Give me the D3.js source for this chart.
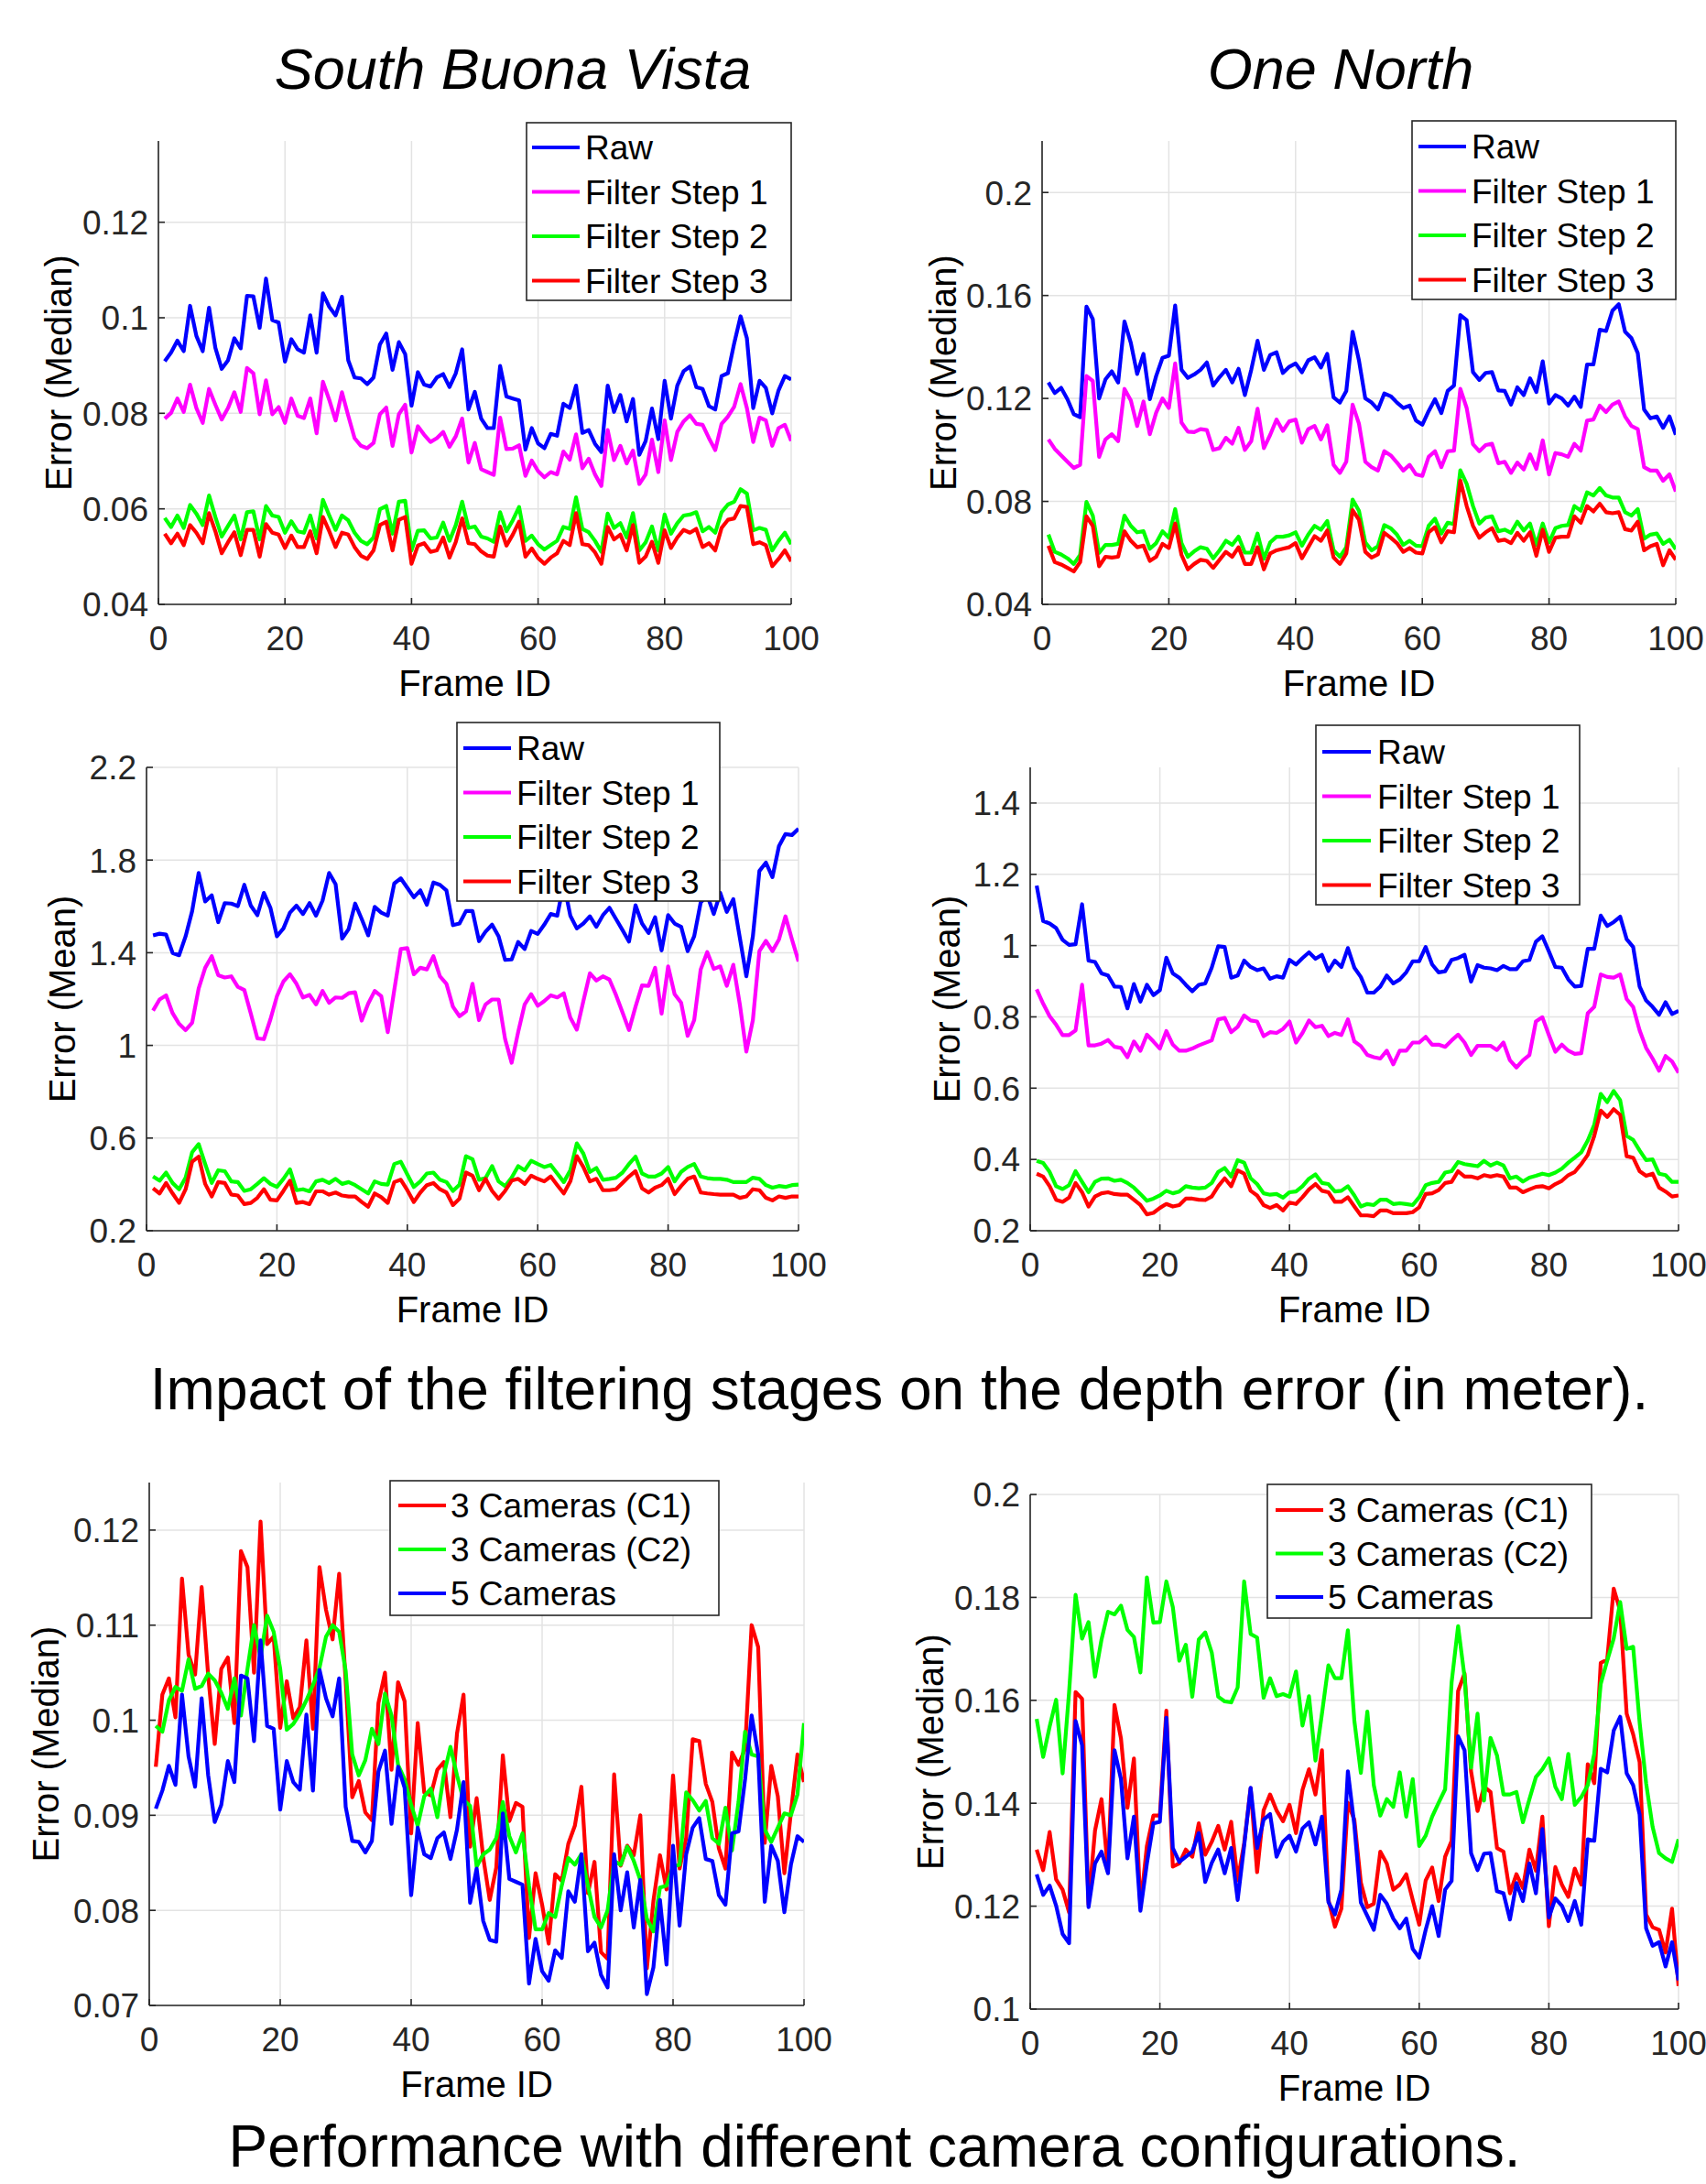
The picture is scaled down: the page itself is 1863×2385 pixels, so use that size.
<!DOCTYPE html>
<html>
<head>
<meta charset="utf-8">
<script src="https://cdn.jsdelivr.net/npm/d3@7"></script>
<style>
  body { margin: 0; background: #fff; }
  text { font-family: "Liberation Sans", Arial, sans-serif; fill: #000; }
</style>
</head>
<body>
<div id="chart"></div>
<script>
const frames = d3.range(1, 101);
const xTicks = [0, 20, 40, 60, 80, 100];

const filterNames = ['Raw', 'Filter Step 1', 'Filter Step 2', 'Filter Step 3'];
const filterColors = ['#0000ff', '#ff00ff', '#00ff00', '#ff0000'];
const cameraNames = ['3 Cameras (C1)', '3 Cameras (C2)', '5 Cameras'];
const cameraColors = ['#ff0000', '#00ff00', '#0000ff'];

// South Buona Vista, median error
const sbvMedianRaw = [0.0909,0.0927,0.0952,0.093,0.1025,0.0962,0.093,0.1021,0.0937,0.0893,
  0.0911,0.0957,0.0936,0.1046,0.1045,0.0979,0.1082,0.0995,0.099,0.0908,
  0.0955,0.0934,0.0927,0.1005,0.0927,0.1051,0.1023,0.1005,0.1044,0.0911,
  0.0875,0.0873,0.0861,0.0875,0.0944,0.0967,0.0891,0.0949,0.0924,0.0816,
  0.0886,0.086,0.0856,0.0875,0.0882,0.0855,0.0884,0.0934,0.0808,0.0845,
  0.0789,0.0769,0.0769,0.0899,0.0835,0.0831,0.0827,0.0724,0.0769,0.0737,
  0.0727,0.0757,0.0753,0.082,0.0811,0.0858,0.0759,0.0765,0.0736,0.0719,
  0.0858,0.0803,0.0838,0.0783,0.083,0.0713,0.0742,0.081,0.0746,0.0868,
  0.0789,0.0858,0.0888,0.0898,0.0855,0.0851,0.0815,0.0808,0.0878,0.0884,
  0.0947,0.1003,0.0957,0.0811,0.0868,0.0853,0.08,0.0848,0.0878,0.0871];
const sbvMedianStep1 = [0.0789,0.0801,0.0831,0.0803,0.086,0.0811,0.078,0.0851,0.0818,0.0787,
  0.0811,0.0844,0.0803,0.0895,0.0884,0.0798,0.0869,0.0798,0.0813,0.078,
  0.0831,0.0795,0.079,0.0831,0.0758,0.0866,0.0828,0.0785,0.0844,0.0795,
  0.0748,0.0732,0.0727,0.0738,0.0798,0.0812,0.0732,0.0798,0.0818,0.0718,
  0.0773,0.0755,0.074,0.0748,0.0761,0.073,0.0752,0.0789,0.0697,0.0738,
  0.0683,0.0677,0.0671,0.0791,0.0725,0.0726,0.0733,0.0669,0.0701,0.0679,
  0.0666,0.0677,0.0672,0.072,0.0703,0.0756,0.0685,0.0705,0.0672,0.0648,
  0.0765,0.0702,0.0732,0.0695,0.0722,0.0652,0.0672,0.0745,0.0677,0.0785,
  0.0702,0.0761,0.0783,0.0796,0.0778,0.0776,0.0748,0.0723,0.0778,0.0793,
  0.0814,0.0861,0.0811,0.074,0.0791,0.0785,0.0732,0.0769,0.0776,0.0742];
const sbvMedianStep2 = [0.0581,0.0562,0.0586,0.056,0.0608,0.059,0.0566,0.0628,0.0583,0.0542,
  0.0564,0.0586,0.0536,0.0593,0.0595,0.0536,0.0606,0.0586,0.0583,0.055,
  0.0574,0.0553,0.055,0.0586,0.0538,0.0619,0.0586,0.0556,0.0586,0.0576,
  0.055,0.0533,0.0526,0.054,0.0599,0.0606,0.0548,0.0615,0.0617,0.0513,
  0.0554,0.0555,0.0538,0.054,0.0571,0.0533,0.0566,0.0615,0.056,0.0563,
  0.0542,0.0538,0.0531,0.0593,0.0553,0.0576,0.0604,0.0533,0.0544,0.0526,
  0.0515,0.0524,0.0533,0.0562,0.0558,0.0624,0.0558,0.0551,0.0533,0.051,
  0.059,0.056,0.057,0.054,0.0591,0.0513,0.053,0.0563,0.0513,0.0588,
  0.0548,0.057,0.0586,0.0588,0.0593,0.0553,0.0562,0.055,0.0593,0.0609,
  0.0615,0.0641,0.0632,0.0555,0.056,0.0556,0.0513,0.0533,0.055,0.0526];
const sbvMedianStep3 = [0.0548,0.0528,0.0548,0.0524,0.0566,0.055,0.0528,0.0591,0.0553,0.0507,
  0.053,0.0551,0.0503,0.0556,0.0556,0.05,0.0568,0.055,0.0546,0.0518,
  0.0544,0.052,0.052,0.0553,0.0507,0.0583,0.0553,0.052,0.055,0.0546,
  0.052,0.0502,0.0495,0.0513,0.0566,0.0573,0.0513,0.0577,0.0583,0.0485,
  0.0523,0.0528,0.051,0.0513,0.054,0.0498,0.0531,0.058,0.0528,0.0526,
  0.0511,0.0502,0.05,0.0563,0.0523,0.0546,0.0573,0.05,0.0517,0.0497,
  0.0485,0.0498,0.0507,0.0533,0.0524,0.0591,0.0526,0.0524,0.0509,0.0485,
  0.0562,0.0536,0.0546,0.0513,0.0566,0.0487,0.05,0.0531,0.0487,0.0555,
  0.0518,0.054,0.0556,0.055,0.0558,0.052,0.0528,0.0513,0.056,0.0577,
  0.058,0.0606,0.0604,0.0526,0.053,0.0524,0.048,0.0495,0.0513,0.049];

// One North, median error
const onMedianRaw = [0.1262,0.1221,0.1241,0.1197,0.1139,0.1127,0.1557,0.1508,0.12,0.1274,
  0.1305,0.1262,0.1499,0.1416,0.1295,0.1373,0.1197,0.1287,0.1358,0.1366,
  0.1561,0.1311,0.128,0.1293,0.1311,0.134,0.125,0.1283,0.1311,0.1262,
  0.1315,0.1213,0.1311,0.1424,0.1311,0.1369,0.1379,0.1299,0.1323,0.1336,
  0.1302,0.1348,0.136,0.132,0.1373,0.1204,0.1184,0.1229,0.1459,0.1348,
  0.12,0.1184,0.1157,0.1219,0.1209,0.1184,0.1163,0.1172,0.1114,0.1098,
  0.1151,0.1197,0.1143,0.1229,0.125,0.1524,0.1504,0.1302,0.1272,0.1299,
  0.1302,0.1231,0.1229,0.1176,0.1243,0.1213,0.1278,0.1225,0.1344,0.118,
  0.1213,0.12,0.1172,0.1207,0.1167,0.1332,0.1332,0.1467,0.1462,0.1541,
  0.1566,0.1459,0.1434,0.1376,0.1157,0.1123,0.113,0.1086,0.113,0.1059];
const onMedianStep1 = [0.1041,0.1004,0.0979,0.0954,0.093,0.0942,0.1287,0.1268,0.0973,0.1041,
  0.1061,0.1034,0.1237,0.1192,0.1093,0.1188,0.1061,0.1145,0.12,0.1163,
  0.1336,0.1106,0.1071,0.1069,0.1081,0.1077,0.1,0.1007,0.1047,0.1024,
  0.1086,0.1,0.1034,0.116,0.1007,0.1059,0.1118,0.1074,0.1111,0.1118,
  0.1028,0.1081,0.1093,0.1041,0.1096,0.0942,0.0911,0.0954,0.1176,0.1102,
  0.0954,0.0933,0.092,0.0995,0.0979,0.0951,0.092,0.0942,0.0905,0.0899,
  0.0973,0.0995,0.0933,0.0995,0.0997,0.1237,0.1163,0.1022,0.0995,0.1019,
  0.1024,0.0948,0.0954,0.0911,0.0951,0.0924,0.0983,0.0926,0.1037,0.0905,
  0.0988,0.0983,0.0973,0.1024,0.0997,0.1114,0.1118,0.1172,0.1147,0.1176,
  0.1188,0.113,0.1093,0.1081,0.0933,0.092,0.092,0.088,0.0905,0.0838];
const onMedianStep2 = [0.0671,0.0604,0.0594,0.0579,0.0557,0.0592,0.0798,0.0745,0.06,0.0631,
  0.0631,0.0635,0.0745,0.0705,0.068,0.0684,0.0616,0.0638,0.0684,0.0659,
  0.077,0.0638,0.0585,0.0606,0.0622,0.0616,0.0579,0.061,0.0647,0.0631,
  0.0663,0.0601,0.0601,0.0675,0.0577,0.0641,0.0663,0.0663,0.0668,0.068,
  0.0628,0.0671,0.0705,0.069,0.0724,0.061,0.0585,0.0622,0.0807,0.0764,
  0.0641,0.061,0.0626,0.0708,0.0696,0.0671,0.0631,0.0647,0.0628,0.0626,
  0.0705,0.0733,0.0675,0.0717,0.0712,0.0921,0.0868,0.0782,0.0714,0.0737,
  0.0742,0.0684,0.069,0.0678,0.0721,0.0687,0.0714,0.0631,0.0714,0.0641,
  0.0696,0.0705,0.0708,0.0782,0.0764,0.0835,0.0823,0.0852,0.0823,0.0815,
  0.0815,0.0758,0.0745,0.077,0.0655,0.0671,0.0675,0.0635,0.0651,0.0614];
const onMedianStep3 = [0.0628,0.0564,0.0555,0.0542,0.0528,0.0564,0.0742,0.0705,0.0548,0.0585,
  0.0582,0.0585,0.0684,0.0647,0.0622,0.0628,0.0569,0.0585,0.0635,0.0619,
  0.0714,0.0592,0.0536,0.0557,0.0573,0.0569,0.0542,0.0573,0.0604,0.0585,
  0.0622,0.0557,0.0557,0.0622,0.0536,0.0598,0.061,0.0616,0.0622,0.0638,
  0.0579,0.0622,0.0665,0.0647,0.0687,0.0582,0.0557,0.0598,0.0766,0.0729,
  0.0604,0.0582,0.0594,0.0678,0.0659,0.0638,0.0604,0.0619,0.0601,0.0598,
  0.068,0.07,0.0641,0.0684,0.068,0.0881,0.0782,0.0705,0.0659,0.068,
  0.0696,0.0647,0.0651,0.0638,0.0678,0.0647,0.068,0.0589,0.069,0.0604,
  0.0659,0.0663,0.0663,0.0742,0.0717,0.0782,0.0761,0.0791,0.0758,0.0754,
  0.0758,0.0692,0.0687,0.0721,0.061,0.0626,0.0635,0.0552,0.061,0.0573];

// South Buona Vista, mean error
const sbvMeanRaw = [1.475,1.482,1.478,1.399,1.389,1.471,1.58,1.744,1.621,1.648,
  1.532,1.614,1.612,1.601,1.693,1.603,1.562,1.658,1.594,1.471,
  1.505,1.573,1.603,1.567,1.614,1.56,1.625,1.744,1.696,1.461,
  1.502,1.612,1.546,1.475,1.598,1.573,1.56,1.699,1.721,1.68,
  1.639,1.669,1.607,1.703,1.693,1.669,1.519,1.526,1.58,1.58,
  1.45,1.491,1.521,1.471,1.369,1.371,1.446,1.416,1.494,1.481,
  1.521,1.567,1.56,1.70,1.56,1.505,1.526,1.557,1.512,1.562,
  1.594,1.546,1.498,1.448,1.605,1.526,1.485,1.553,1.41,1.562,
  1.526,1.512,1.407,1.471,1.617,1.648,1.567,1.658,1.576,1.631,
  1.464,1.298,1.471,1.753,1.789,1.726,1.86,1.912,1.908,1.935];
const sbvMeanStep1 = [1.15,1.198,1.216,1.139,1.093,1.066,1.098,1.246,1.335,1.385,
  1.303,1.293,1.298,1.253,1.239,1.137,1.03,1.027,1.112,1.212,
  1.276,1.307,1.266,1.207,1.218,1.177,1.235,1.184,1.207,1.205,
  1.225,1.229,1.107,1.18,1.235,1.212,1.057,1.239,1.416,1.42,
  1.307,1.335,1.328,1.385,1.298,1.266,1.167,1.126,1.147,1.266,
  1.109,1.177,1.198,1.198,1.027,0.925,1.057,1.177,1.221,1.171,
  1.191,1.216,1.207,1.225,1.12,1.068,1.191,1.311,1.28,1.298,
  1.284,1.218,1.143,1.066,1.167,1.259,1.257,1.335,1.137,1.341,
  1.221,1.184,1.041,1.109,1.328,1.403,1.33,1.341,1.257,1.348,
  1.177,0.973,1.109,1.407,1.451,1.407,1.457,1.557,1.457,1.362];
const sbvMeanStep2 = [0.434,0.416,0.451,0.406,0.379,0.429,0.539,0.574,0.488,0.406,
  0.461,0.457,0.413,0.41,0.372,0.379,0.402,0.427,0.402,0.389,
  0.424,0.465,0.375,0.379,0.37,0.413,0.42,0.406,0.424,0.402,
  0.41,0.397,0.379,0.361,0.413,0.402,0.399,0.488,0.498,0.443,
  0.389,0.413,0.447,0.451,0.42,0.41,0.372,0.399,0.522,0.509,
  0.42,0.427,0.479,0.413,0.393,0.429,0.479,0.461,0.502,0.488,
  0.475,0.484,0.447,0.41,0.461,0.577,0.533,0.454,0.471,0.42,
  0.424,0.429,0.451,0.488,0.52,0.447,0.434,0.434,0.447,0.475,
  0.413,0.454,0.475,0.488,0.434,0.427,0.424,0.424,0.42,0.41,
  0.41,0.41,0.429,0.424,0.397,0.386,0.393,0.389,0.397,0.399];
const sbvMeanStep3 = [0.383,0.361,0.406,0.361,0.32,0.379,0.498,0.52,0.402,0.348,
  0.41,0.406,0.356,0.352,0.315,0.32,0.342,0.379,0.334,0.331,
  0.372,0.416,0.32,0.324,0.315,0.37,0.37,0.356,0.365,0.352,
  0.348,0.348,0.324,0.304,0.361,0.345,0.32,0.41,0.42,0.375,
  0.324,0.365,0.397,0.406,0.379,0.365,0.311,0.338,0.451,0.438,
  0.375,0.424,0.372,0.338,0.372,0.416,0.424,0.402,0.438,0.424,
  0.413,0.434,0.397,0.361,0.413,0.522,0.475,0.413,0.424,0.375,
  0.375,0.379,0.406,0.434,0.457,0.383,0.365,0.386,0.397,0.424,
  0.358,0.393,0.424,0.434,0.365,0.361,0.358,0.356,0.356,0.356,
  0.342,0.348,0.379,0.375,0.342,0.331,0.348,0.342,0.348,0.348];

// One North, mean error
const onMeanRaw = [1.168,1.069,1.062,1.049,1.016,1.002,1.004,1.116,0.958,0.954,
  0.922,0.916,0.885,0.884,0.824,0.892,0.843,0.89,0.861,0.875,
  0.966,0.922,0.91,0.89,0.872,0.89,0.894,0.938,0.998,0.996,
  0.91,0.916,0.958,0.94,0.931,0.936,0.907,0.914,0.91,0.96,
  0.947,0.965,0.981,0.963,0.974,0.929,0.958,0.94,0.993,0.938,
  0.912,0.868,0.868,0.885,0.916,0.894,0.905,0.925,0.956,0.956,
  0.996,0.947,0.925,0.928,0.96,0.965,0.974,0.899,0.945,0.938,
  0.936,0.931,0.943,0.934,0.934,0.956,0.96,1.011,1.026,0.984,
  0.94,0.938,0.905,0.885,0.887,0.991,0.991,1.084,1.055,1.066,
  1.081,1.018,0.996,0.885,0.846,0.828,0.806,0.841,0.808,0.817];
const onMeanStep1 = [0.877,0.837,0.802,0.778,0.749,0.749,0.762,0.89,0.72,0.72,
  0.725,0.735,0.716,0.713,0.687,0.731,0.705,0.75,0.731,0.711,
  0.76,0.722,0.705,0.705,0.711,0.72,0.727,0.734,0.793,0.797,
  0.757,0.772,0.804,0.79,0.787,0.746,0.757,0.755,0.766,0.787,
  0.728,0.755,0.79,0.771,0.775,0.746,0.755,0.749,0.793,0.731,
  0.718,0.693,0.687,0.683,0.705,0.667,0.705,0.705,0.728,0.728,
  0.744,0.722,0.722,0.716,0.734,0.75,0.728,0.693,0.719,0.719,
  0.719,0.707,0.728,0.678,0.658,0.678,0.693,0.787,0.799,0.749,
  0.702,0.722,0.705,0.696,0.698,0.81,0.828,0.919,0.912,0.91,
  0.919,0.85,0.828,0.762,0.713,0.683,0.649,0.69,0.675,0.643];
const onMeanStep2 = [0.396,0.39,0.365,0.325,0.317,0.328,0.367,0.337,0.308,0.337,
  0.346,0.347,0.34,0.343,0.334,0.321,0.303,0.284,0.29,0.299,
  0.312,0.305,0.31,0.325,0.321,0.319,0.321,0.334,0.365,0.376,
  0.352,0.398,0.391,0.347,0.331,0.305,0.301,0.303,0.293,0.308,
  0.31,0.325,0.346,0.358,0.334,0.331,0.31,0.312,0.325,0.299,
  0.268,0.275,0.272,0.287,0.287,0.275,0.277,0.275,0.272,0.294,
  0.328,0.334,0.337,0.363,0.367,0.393,0.387,0.384,0.381,0.396,
  0.383,0.391,0.383,0.347,0.352,0.338,0.349,0.354,0.36,0.356,
  0.363,0.374,0.391,0.405,0.42,0.453,0.497,0.584,0.561,0.592,
  0.566,0.466,0.455,0.425,0.398,0.4,0.36,0.356,0.337,0.337];
const onMeanStep3 = [0.36,0.352,0.325,0.287,0.281,0.293,0.334,0.308,0.268,0.296,
  0.305,0.308,0.303,0.301,0.301,0.287,0.272,0.246,0.25,0.264,
  0.275,0.268,0.272,0.29,0.29,0.287,0.286,0.296,0.325,0.347,
  0.325,0.369,0.36,0.312,0.299,0.272,0.264,0.272,0.257,0.279,
  0.275,0.294,0.316,0.331,0.312,0.308,0.281,0.281,0.294,0.268,
  0.243,0.243,0.241,0.257,0.257,0.249,0.249,0.249,0.252,0.266,
  0.303,0.305,0.314,0.334,0.337,0.367,0.352,0.352,0.347,0.356,
  0.352,0.356,0.352,0.321,0.321,0.308,0.316,0.323,0.325,0.319,
  0.331,0.34,0.356,0.365,0.387,0.413,0.466,0.537,0.519,0.541,
  0.525,0.409,0.405,0.367,0.354,0.36,0.321,0.31,0.296,0.299];

// South Buona Vista, camera configurations (median)
const sbvCamC1 = [0.0951,0.1027,0.1044,0.1003,0.1149,0.1069,0.1048,0.114,0.1047,0.0975,
  0.1054,0.1066,0.0997,0.1178,0.1161,0.105,0.1209,0.108,0.1088,0.0992,
  0.1041,0.1002,0.1014,0.1084,0.0991,0.1161,0.1116,0.1085,0.1154,0.1041,
  0.0919,0.0936,0.0903,0.0895,0.1018,0.105,0.0948,0.104,0.102,0.0881,
  0.0997,0.0924,0.0921,0.0948,0.0956,0.0898,0.0986,0.1027,0.0867,0.0918,
  0.0856,0.0811,0.0845,0.0963,0.0894,0.0913,0.0909,0.0771,0.0839,0.0806,
  0.0765,0.0838,0.0831,0.087,0.0889,0.093,0.0818,0.0851,0.0756,0.0749,
  0.0943,0.0847,0.0868,0.0858,0.09,0.0739,0.081,0.0858,0.0822,0.0942,
  0.0844,0.0876,0.098,0.0978,0.0933,0.0914,0.0865,0.0844,0.0966,0.0953,
  0.097,0.11,0.1077,0.0871,0.0952,0.092,0.0839,0.0903,0.0964,0.0935];
const sbvCamC2 = [0.0994,0.0988,0.1021,0.1035,0.1031,0.1064,0.1033,0.1036,0.1049,0.1042,
  0.1029,0.1012,0.1044,0.1005,0.1054,0.11,0.1066,0.111,0.1093,0.1054,
  0.099,0.0996,0.1007,0.1021,0.1037,0.1055,0.1088,0.11,0.1093,0.1052,
  0.0964,0.0942,0.0958,0.0991,0.0975,0.1028,0.1005,0.0953,0.0938,0.0911,
  0.0889,0.092,0.0928,0.0898,0.0943,0.0972,0.0942,0.0916,0.091,0.0846,
  0.0859,0.0864,0.0876,0.0914,0.0878,0.0861,0.0881,0.0826,0.078,0.078,
  0.0797,0.0793,0.0826,0.0855,0.0848,0.0859,0.0826,0.0793,0.0782,0.08,
  0.0852,0.0848,0.0867,0.0852,0.0832,0.0791,0.0778,0.0824,0.0826,0.0846,
  0.0848,0.0924,0.0916,0.0905,0.0915,0.0876,0.087,0.0908,0.0863,0.0914,
  0.0988,0.0964,0.0962,0.0885,0.0872,0.0887,0.0902,0.09,0.0922,0.0997];
const sbvCam5 = [0.0907,0.0926,0.0952,0.0932,0.1027,0.0962,0.093,0.1023,0.0942,0.0893,
  0.0911,0.0957,0.0935,0.1047,0.1044,0.0978,0.1084,0.0994,0.0991,0.0906,
  0.0957,0.0935,0.0927,0.1006,0.0926,0.1053,0.1023,0.1004,0.1044,0.0909,
  0.0873,0.0872,0.0861,0.0873,0.0946,0.0968,0.0891,0.0951,0.0929,0.0816,
  0.0887,0.0859,0.0855,0.0876,0.0882,0.0854,0.0885,0.0935,0.0808,0.0844,
  0.0789,0.0769,0.0767,0.0902,0.0833,0.083,0.0827,0.0723,0.077,0.0736,
  0.0726,0.0758,0.075,0.082,0.0809,0.0859,0.0757,0.0766,0.0732,0.0719,
  0.0859,0.08,0.084,0.0782,0.0832,0.0712,0.074,0.0811,0.0743,0.0868,
  0.0784,0.0859,0.0887,0.0897,0.0854,0.0852,0.0816,0.0806,0.0881,0.0883,
  0.0938,0.1005,0.0964,0.0809,0.0868,0.0852,0.0798,0.0848,0.0878,0.0872];

// One North, camera configurations (median)
const onCamC1 = [0.131,0.127,0.1344,0.1252,0.1232,0.1188,0.1616,0.1603,0.1203,0.1347,
  0.1408,0.1269,0.1591,0.1526,0.1391,0.1487,0.1198,0.1317,0.1376,0.1376,
  0.158,0.1277,0.1283,0.131,0.1296,0.1361,0.13,0.1325,0.1356,0.131,
  0.1364,0.125,0.1322,0.1429,0.1266,0.1386,0.1417,0.1386,0.1365,0.1397,
  0.1342,0.1426,0.1466,0.1417,0.1503,0.1212,0.116,0.1195,0.1401,0.1368,
  0.1246,0.1198,0.1205,0.1306,0.1283,0.1232,0.1242,0.1262,0.1212,0.1164,
  0.125,0.1275,0.121,0.1296,0.1327,0.1618,0.1652,0.1462,0.1385,0.1432,
  0.1422,0.1313,0.1306,0.1225,0.1262,0.1235,0.131,0.1269,0.1374,0.1161,
  0.1276,0.1242,0.1218,0.1273,0.1242,0.1476,0.1439,0.1673,0.1679,0.1817,
  0.1774,0.1574,0.1534,0.148,0.1184,0.1159,0.1154,0.111,0.1195,0.1045];
const onCamC2 = [0.1564,0.149,0.1549,0.1601,0.1458,0.1616,0.1805,0.172,0.1752,0.1646,
  0.1718,0.1772,0.1767,0.1784,0.1737,0.1723,0.1654,0.1839,0.1751,0.1752,
  0.1831,0.1781,0.1677,0.1708,0.1607,0.1718,0.1732,0.1693,0.1607,0.1598,
  0.1596,0.1625,0.1831,0.1729,0.1722,0.1605,0.1643,0.1608,0.1612,0.1607,
  0.1656,0.1551,0.1608,0.1483,0.1574,0.1668,0.1643,0.1643,0.1736,0.156,
  0.1459,0.1578,0.1435,0.1376,0.1408,0.1393,0.146,0.1374,0.1447,0.1317,
  0.1337,0.1374,0.1401,0.1427,0.1635,0.1744,0.1645,0.1469,0.1574,0.1405,
  0.1527,0.1493,0.1417,0.1417,0.1422,0.1363,0.1408,0.1451,0.1466,0.1487,
  0.1432,0.1408,0.1496,0.1397,0.1412,0.1435,0.1496,0.1632,0.1677,0.172,
  0.1791,0.17,0.1704,0.1557,0.1439,0.1354,0.1303,0.1293,0.1286,0.133];
const onCam5 = [0.1262,0.1222,0.124,0.1201,0.1146,0.1128,0.156,0.1513,0.1198,0.1283,
  0.1306,0.1264,0.1503,0.1447,0.1293,0.1374,0.1191,0.1283,0.1361,0.1364,
  0.1566,0.1313,0.1286,0.1296,0.1306,0.1342,0.1247,0.1284,0.131,0.1264,
  0.1313,0.1212,0.1317,0.143,0.1313,0.1368,0.1379,0.1296,0.1325,0.1337,
  0.1306,0.1351,0.1363,0.132,0.1374,0.1208,0.1184,0.1232,0.1462,0.1357,
  0.1207,0.1181,0.1154,0.1222,0.1205,0.1176,0.1157,0.1176,0.1117,0.11,
  0.1154,0.12,0.1142,0.1232,0.1249,0.153,0.1503,0.1303,0.127,0.1302,
  0.1303,0.1229,0.1225,0.1174,0.1245,0.121,0.1283,0.1225,0.135,0.1178,
  0.1215,0.1201,0.1171,0.121,0.1164,0.133,0.1327,0.1467,0.146,0.1541,
  0.1568,0.1458,0.1435,0.1378,0.1157,0.1123,0.113,0.1083,0.113,0.1056];

const svg = d3.select('#chart').append('svg')
  .attr('width', 1863).attr('height', 2385)
  .style('background', '#fff');

const fmt = d3.format('~g');

function drawPanel(p, idx) {
  const x = d3.scaleLinear().domain([0, 100]).range([p.left, p.right]);
  const y = d3.scaleLinear().domain(p.yDomain).range([p.bottom, p.top]);
  const g = svg.append('g');

  g.append('clipPath').attr('id', 'clip' + idx)
    .append('rect').attr('x', p.left).attr('y', p.top)
    .attr('width', p.right - p.left).attr('height', p.bottom - p.top);

  // grid
  g.selectAll('.gx').data(xTicks).enter().append('line')
    .attr('x1', d => x(d)).attr('x2', d => x(d))
    .attr('y1', p.top).attr('y2', p.bottom)
    .attr('stroke', '#e3e3e3').attr('stroke-width', 1.5);
  g.selectAll('.gy').data(p.yTicks).enter().append('line')
    .attr('x1', p.left).attr('x2', p.right)
    .attr('y1', d => y(d)).attr('y2', d => y(d))
    .attr('stroke', '#e3e3e3').attr('stroke-width', 1.5);

  // series
  const line = d3.line().x((d, i) => x(frames[i])).y(d => y(d));
  g.append('g').attr('clip-path', `url(#clip${idx})`)
    .selectAll('path').data(p.series).enter().append('path')
    .attr('d', line)
    .attr('fill', 'none')
    .attr('stroke', (d, i) => p.colors[i])
    .attr('stroke-width', 4.2)
    .attr('stroke-linejoin', 'round');

  // axes
  const axisColor = '#262626';
  g.append('line').attr('x1', p.left).attr('x2', p.left)
    .attr('y1', p.top).attr('y2', p.bottom)
    .attr('stroke', axisColor).attr('stroke-width', 1.6);
  g.append('line').attr('x1', p.left).attr('x2', p.right)
    .attr('y1', p.bottom).attr('y2', p.bottom)
    .attr('stroke', axisColor).attr('stroke-width', 1.6);

  g.selectAll('.ty').data(p.yTicks).enter().append('line')
    .attr('x1', p.left).attr('x2', p.left + 7)
    .attr('y1', d => y(d)).attr('y2', d => y(d))
    .attr('stroke', axisColor).attr('stroke-width', 1.6);
  g.selectAll('.tx').data(xTicks).enter().append('line')
    .attr('x1', d => x(d)).attr('x2', d => x(d))
    .attr('y1', p.bottom).attr('y2', p.bottom - 7)
    .attr('stroke', axisColor).attr('stroke-width', 1.6);

  g.selectAll('.ly').data(p.yTicks).enter().append('text')
    .attr('x', p.left - 11).attr('y', d => y(d))
    .attr('dy', '0.36em').attr('text-anchor', 'end')
    .attr('font-size', 37).style('fill', '#262626')
    .text(d => fmt(d));
  g.selectAll('.lx').data(xTicks).enter().append('text')
    .attr('x', d => x(d)).attr('y', p.bottom + 50)
    .attr('text-anchor', 'middle')
    .attr('font-size', 37).style('fill', '#262626')
    .text(d => d);

  g.append('text')
    .attr('x', (p.left + p.right) / 2).attr('y', p.bottom + 100)
    .attr('text-anchor', 'middle').attr('font-size', 40)
    .text('Frame ID');
  g.append('text')
    .attr('transform', `translate(${p.ylabelX},${(p.top + p.bottom) / 2}) rotate(-90)`)
    .attr('dy', '0.36em')
    .attr('text-anchor', 'middle').attr('font-size', 40)
    .text(p.ylabel);

  // legend
  const L = p.legend;
  g.append('rect').attr('x', L.x).attr('y', L.y).attr('width', L.w).attr('height', L.h)
    .attr('fill', '#fff').attr('stroke', axisColor).attr('stroke-width', 1.6);
  const rows = g.selectAll('.leg').data(p.names).enter().append('g')
    .attr('transform', (d, i) => `translate(0,${L.row0 + i * L.step})`);
  rows.append('line')
    .attr('x1', L.x + L.s0).attr('x2', L.x + L.s1)
    .attr('y1', 0).attr('y2', 0)
    .attr('stroke', (d, i) => p.colors[i]).attr('stroke-width', 4.2);
  rows.append('text')
    .attr('x', L.x + L.tx).attr('y', 0).attr('dy', '0.36em')
    .attr('font-size', 37).text(d => d);
}

const panels = [
  { left: 173, right: 864, top: 154, bottom: 660, yDomain: [0.04, 0.137],
    yTicks: [0.04, 0.06, 0.08, 0.1, 0.12], ylabel: 'Error (Median)', ylabelX: 64,
    series: [sbvMedianRaw, sbvMedianStep1, sbvMedianStep2, sbvMedianStep3],
    colors: filterColors, names: filterNames,
    legend: { x: 575, y: 134, w: 289, h: 194, row0: 161, step: 48.5, s0: 6, s1: 58, tx: 64 } },
  { left: 1138, right: 1830, top: 154, bottom: 660, yDomain: [0.04, 0.22],
    yTicks: [0.04, 0.08, 0.12, 0.16, 0.2], ylabel: 'Error (Median)', ylabelX: 1030,
    series: [onMedianRaw, onMedianStep1, onMedianStep2, onMedianStep3],
    colors: filterColors, names: filterNames,
    legend: { x: 1542, y: 132, w: 288, h: 195, row0: 160, step: 48.5, s0: 7, s1: 59, tx: 65 } },
  { left: 160, right: 872, top: 838, bottom: 1344, yDomain: [0.2, 2.2],
    yTicks: [0.2, 0.6, 1, 1.4, 1.8, 2.2], ylabel: 'Error (Mean)', ylabelX: 68,
    series: [sbvMeanRaw, sbvMeanStep1, sbvMeanStep2, sbvMeanStep3],
    colors: filterColors, names: filterNames,
    legend: { x: 499, y: 789, w: 287, h: 195, row0: 817, step: 48.5, s0: 7, s1: 59, tx: 65 } },
  { left: 1125, right: 1833, top: 838, bottom: 1344, yDomain: [0.2, 1.5],
    yTicks: [0.2, 0.4, 0.6, 0.8, 1, 1.2, 1.4], ylabel: 'Error (Mean)', ylabelX: 1034,
    series: [onMeanRaw, onMeanStep1, onMeanStep2, onMeanStep3],
    colors: filterColors, names: filterNames,
    legend: { x: 1437, y: 792, w: 288, h: 196, row0: 821, step: 48.5, s0: 7, s1: 60, tx: 67 } },
  { left: 163, right: 878, top: 1619, bottom: 2190, yDomain: [0.07, 0.125],
    yTicks: [0.07, 0.08, 0.09, 0.1, 0.11, 0.12], ylabel: 'Error (Median)', ylabelX: 50,
    series: [sbvCamC1, sbvCamC2, sbvCam5],
    colors: cameraColors, names: cameraNames,
    legend: { x: 426, y: 1617, w: 359, h: 147, row0: 1644, step: 48, s0: 9, s1: 61, tx: 66 } },
  { left: 1125, right: 1833, top: 1632, bottom: 2194, yDomain: [0.1, 0.2],
    yTicks: [0.1, 0.12, 0.14, 0.16, 0.18, 0.2], ylabel: 'Error (Median)', ylabelX: 1016,
    series: [onCamC1, onCamC2, onCam5],
    colors: cameraColors, names: cameraNames,
    legend: { x: 1384, y: 1621, w: 354, h: 146, row0: 1649, step: 47.5, s0: 9, s1: 61, tx: 66 } }
];

panels.forEach(drawPanel);

svg.append('text').attr('x', 560).attr('y', 97).attr('text-anchor', 'middle')
  .attr('font-size', 63).attr('font-style', 'italic').text('South Buona Vista');
svg.append('text').attr('x', 1464).attr('y', 97).attr('text-anchor', 'middle')
  .attr('font-size', 63).attr('font-style', 'italic').text('One North');
svg.append('text').attr('x', 982).attr('y', 1539).attr('text-anchor', 'middle')
  .attr('font-size', 64).text('Impact of the filtering stages on the depth error (in meter).');
svg.append('text').attr('x', 955).attr('y', 2366).attr('text-anchor', 'middle')
  .attr('font-size', 64).text('Performance with different camera configurations.');
</script>
</body>
</html>
